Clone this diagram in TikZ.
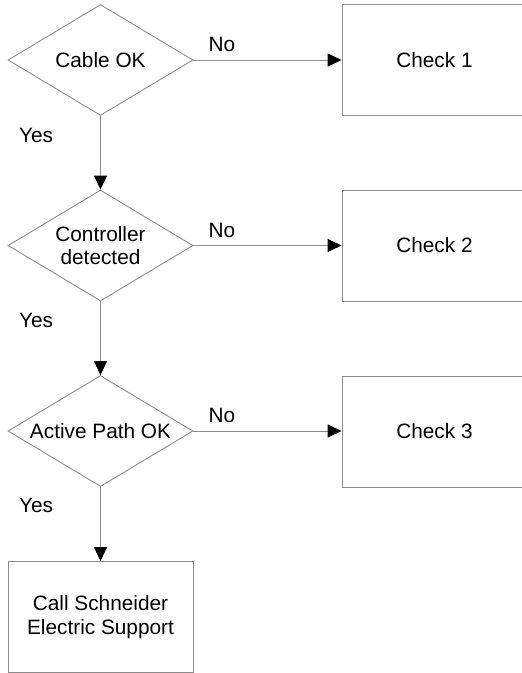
\documentclass[tikz,border=0pt]{standalone}
\usepackage{fontspec}
\setmainfont{Liberation Sans}
\usetikzlibrary{shapes.geometric,arrows.meta}
\begin{document}
\begin{tikzpicture}[x=1pt,y=-1pt,
  line/.style={draw=black!45,line width=0.9pt},
  dec/.style={line,diamond,inner sep=0pt,minimum width=185pt,minimum height=111pt,aspect=1.667,font=\fontsize{20.8}{23.5}\selectfont,align=center},
  box/.style={line,rectangle,inner sep=0pt,minimum width=185pt,minimum height=111pt,font=\fontsize{20.8}{23.5}\selectfont,align=center},
  lbl/.style={font=\fontsize{20.8}{23.5}\selectfont,inner sep=0pt},
  arr/.style={line,-{Triangle[length=14pt,width=13pt,color=black]}}]
\useasboundingbox (0,0) rectangle (522,673);
\clip (0,0) rectangle (522,673);
\node[dec] (d1) at (100.5,60) {Cable OK};
\node[dec] (d2) at (100.5,245.5) {Controller\\detected};
\node[dec] (d3) at (100.5,431) {Active Path OK};
\node[box] (c1) at (434.5,60) {Check 1};
\node[box] (c2) at (434.5,245.5) {Check 2};
\node[box] (c3) at (434.5,431.5) {Check 3};
\node[box] (call) at (100.5,617) {Call Schneider\\Electric Support};
\draw[arr] (d1.east) -- (d1.east -| c1.west);
\draw[arr] (d2.east) -- (d2.east -| c2.west);
\draw[arr] (d3.east) -- (d3.east -| c3.west);
\draw[arr] (d1.south) -- (d2.north);
\draw[arr] (d2.south) -- (d3.north);
\draw[arr] (d3.south) -- (call.north);
\node[lbl] (n1) at (222,44) {No};
\node[lbl] (n2) at (222,230) {No};
\node[lbl] (n3) at (222,415) {No};
\node[lbl] (y1) at (36,135) {Yes};
\node[lbl] (y2) at (36,320) {Yes};
\node[lbl] (y3) at (36,505) {Yes};
\end{tikzpicture}
\end{document}
